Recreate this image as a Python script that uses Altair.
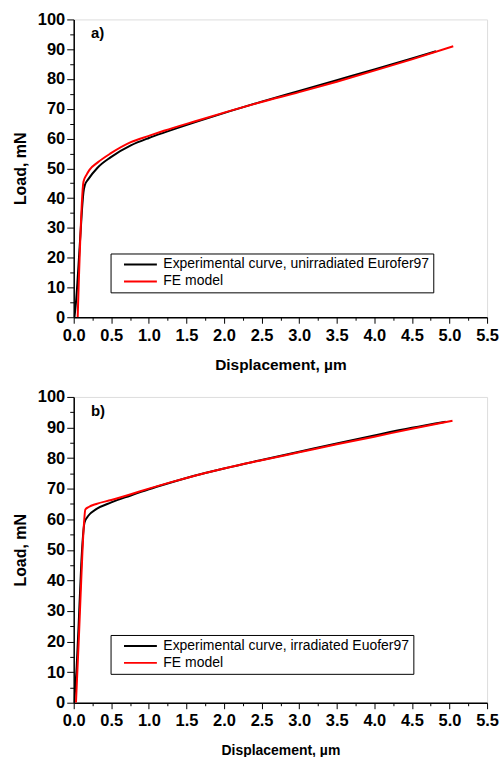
import altair as alt
import pandas as pd

FONT = "Liberation Sans"

# Panel a data
a_exp_x = [0.01, 0.03, 0.05, 0.07, 0.09, 0.11, 0.13, 0.15, 0.19, 0.32, 0.49, 0.76, 1.0, 1.2, 1.64, 2.08, 2.5, 3.0, 3.5, 4.0, 4.5, 4.82]
a_exp_y = [0, 5, 12, 20, 28, 36, 42, 44.5, 46.2, 50.3, 53.7, 57.7, 60.2, 62.0, 65.7, 69.2, 72.4, 76.0, 79.6, 83.2, 86.9, 89.3]
a_fe_x = [0.053, 0.13, 0.17, 0.21, 0.32, 0.49, 0.76, 1.0, 1.2, 1.64, 2.08, 2.5, 3.0, 3.5, 4.0, 4.5, 5.05]
a_fe_y = [0, 45.5, 47.8, 49.5, 52.0, 55.0, 58.8, 60.9, 62.6, 66.0, 69.3, 72.3, 75.6, 79.1, 82.8, 86.6, 91.0]
a_exp_name = "Experimental curve, unirradiated Eurofer97"

# Panel b data
b_exp_x = [0.005, 0.04, 0.07, 0.10, 0.125, 0.145, 0.2, 0.3, 0.5, 0.75, 1.0, 1.25, 1.5, 1.75, 2.0, 2.5, 3.0, 3.5, 4.0, 4.5, 4.95]
b_exp_y = [0, 12, 28, 45, 55, 59.0, 61.3, 63.3, 65.5, 67.7, 69.8, 71.7, 73.5, 75.1, 76.6, 79.4, 82.1, 84.8, 87.4, 89.9, 91.9]
b_fe_x = [0.03, 0.07, 0.10, 0.13, 0.155, 0.2, 0.3, 0.5, 0.75, 1.0, 1.25, 1.5, 1.75, 2.0, 2.34, 2.5, 3.0, 3.5, 4.0, 4.5, 5.04]
b_fe_y = [0, 22, 40, 56, 63.2, 64.0, 65.0, 66.3, 68.1, 70.0, 71.8, 73.5, 75.1, 76.6, 78.5, 79.3, 81.9, 84.5, 87.0, 89.6, 92.2]
b_exp_name = "Experimental curve, irradiated Euofer97"

fe_name = "FE model"
tags = ["a)", "b)"]
tag_x = [0.23, 0.23]
tag_y = [95.3, 95.3]

x_ticks = [i * 0.25 for i in range(23)]
y_ticks = [i * 5 for i in range(21)]


def make_axes(title_size):
    xaxis = alt.Axis(
        values=x_ticks, title="Displacement, \u00b5m",
        labelExpr="datum.value % 0.5 === 0 ? format(datum.value, '.1f') : ''",
        labelOverlap=False, labelFlush=False, labelBound=False,
        labelFont=FONT, labelFontSize=16.5, labelFontWeight="bold", labelColor="black",
        labelPadding=4, tickSize=6,
        tickDash={"condition": {"test": "datum.value % 0.5 !== 0", "value": [3, 50]}, "value": [10, 0]},
        tickColor="black", tickWidth=1, domainColor="black", domainWidth=1.5,
        titleFont=FONT, titleFontSize=title_size, titleFontWeight="bold", titleColor="black",
        titlePadding=14, grid=False,
    )
    yaxis = alt.Axis(
        values=y_ticks, title="Load, mN",
        labelExpr="datum.value % 10 === 0 ? format(datum.value, 'd') : ''",
        labelOverlap=False, labelFlush=False, labelBound=False,
        labelFont=FONT, labelFontSize=16.5, labelFontWeight="bold", labelColor="black",
        labelPadding=2, tickSize=7,
        tickDash={"condition": {"test": "datum.value % 10 !== 0", "value": [4, 50]}, "value": [10, 0]},
        tickColor="black", tickWidth=1, domainColor="black", domainWidth=1.5,
        titleFont=FONT, titleFontSize=16, titleFontWeight="bold", titleColor="black",
        titlePadding=9, grid=False,
    )
    return xaxis, yaxis


def panel(ex, ey, fx, fy, exp_name, tag, tx, ty, h, leg_y, title_size):
    dexp = pd.DataFrame({"x": ex, "y": ey, "s": exp_name})
    dfe = pd.DataFrame({"x": fx, "y": fy, "s": fe_name})
    xs = alt.Scale(domain=[0, 5.5], nice=False, zero=False)
    ys = alt.Scale(domain=[0, 100], nice=False, zero=False)
    xaxis, yaxis = make_axes(title_size)
    color = alt.Color(
        "s:N",
        scale=alt.Scale(domain=[exp_name, fe_name], range=["black", "red"]),
        legend=alt.Legend(
            orient="none", legendX=37, legendY=leg_y, title=None,
            strokeColor="black", fillColor="white", padding=4,
            symbolType="M-3,0H3", symbolSize=121, symbolStrokeWidth=2,
            labelFont=FONT, labelFontSize=14, labelColor="black", labelLimit=0,
            rowPadding=3, labelOffset=16, symbolOffset=19,
        ),
    )
    enc = dict(x=alt.X("x:Q", scale=xs, axis=xaxis), y=alt.Y("y:Q", scale=ys, axis=yaxis))
    l1 = alt.Chart(dexp).mark_line(strokeWidth=2, interpolate="monotone", clip=True).encode(color=color, **enc)
    l2 = alt.Chart(dfe).mark_line(strokeWidth=2, interpolate="monotone", clip=True).encode(color=color, **enc)
    t = alt.Chart(pd.DataFrame({"x": [tx], "y": [ty], "t": [tag]})).mark_text(
        align="left", baseline="middle", font=FONT, fontSize=15, fontWeight="bold", color="black"
    ).encode(text="t:N", **enc)
    return alt.layer(l1, l2, t).properties(width=415, height=h)


pa = panel(a_exp_x, a_exp_y, a_fe_x, a_fe_y, a_exp_name, tags[0], tag_x[0], tag_y[0], 299, 235, 15.5)
pb = panel(b_exp_x, b_exp_y, b_fe_x, b_fe_y, b_exp_name, tags[1], tag_x[1], tag_y[1], 307, 239, 14)

chart = alt.vconcat(pa, pb, spacing=14).resolve_scale(color="independent").properties(
    padding={"left": 11, "top": 9, "right": 5, "bottom": 0}
).configure_view(stroke=None).configure(background="white")

chart.save("out.html", embed_options={"renderer": "svg", "actions": False})
